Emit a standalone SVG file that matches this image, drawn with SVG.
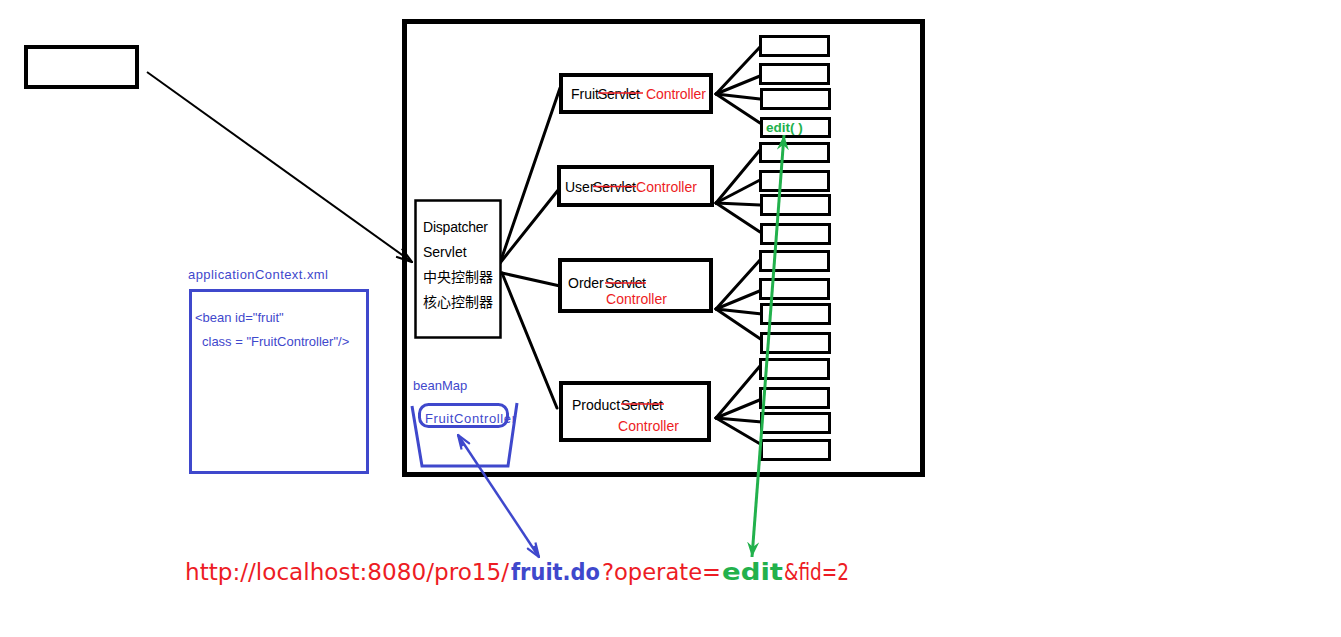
<svg xmlns="http://www.w3.org/2000/svg" width="1341" height="637" viewBox="0 0 1341 637">
<style>
text{font-family:"Liberation Sans","Noto Sans CJK SC",sans-serif;}
.box{fill:#fff;stroke:#000;}
.blk{fill:#000;font-size:14px;}
.red{fill:#ed1c24;font-size:14px;}
.blue{fill:#3f48cc;font-size:13px;}
.strike{stroke:#ed1c24;stroke-width:1.3;}
.ln{stroke:#000;stroke-width:3;fill:none;stroke-linecap:round;}
.sm{fill:#fff;stroke:#000;stroke-width:3;}
.url{font-family:"DejaVu Sans","Noto Sans CJK SC",sans-serif;font-size:23px;}
</style>
<defs>
<marker id="arrBlack" viewBox="0 0 18 12" refX="17" refY="6" markerWidth="18" markerHeight="12" markerUnits="userSpaceOnUse" orient="auto"><path d="M1,1 L17,6 L1,11" fill="none" stroke="#000" stroke-width="2.2"/></marker>
<marker id="arrBlue" viewBox="0 0 16 12" refX="15" refY="6" markerWidth="16" markerHeight="12" markerUnits="userSpaceOnUse" orient="auto-start-reverse"><path d="M1,1 L15,6 L1,11 M3,4 L14,6" fill="none" stroke="#3f48cc" stroke-width="2.2"/></marker>
<marker id="arrGreen" viewBox="0 0 16 12" refX="15" refY="6" markerWidth="16" markerHeight="12" markerUnits="userSpaceOnUse" orient="auto-start-reverse"><path d="M0,0 L15,6 L0,12 L5,6 Z" fill="#22b14c"/></marker>
</defs>
<rect width="1341" height="637" fill="#fff"/>

<g id="client">
<rect x="26" y="47" width="111" height="40" class="box" stroke-width="4"/>
</g>

<g id="container">
<rect x="404.5" y="21.5" width="518" height="453" fill="none" stroke="#000" stroke-width="5"/>
</g>

<g id="connectors">
<line x1="147" y1="72" x2="412" y2="262" stroke="#000" stroke-width="2" marker-end="url(#arrBlack)"/>
<line class="ln" x1="500" y1="263" x2="560" y2="88"/>
<line class="ln" x1="500" y1="263" x2="559" y2="189"/>
<line class="ln" x1="502" y1="273" x2="560" y2="286"/>
<line class="ln" x1="502" y1="273" x2="557" y2="408"/>
<line class="ln" x1="716" y1="94" x2="760" y2="47"/>
<line class="ln" x1="716" y1="94" x2="760" y2="76"/>
<line class="ln" x1="716" y1="94" x2="760" y2="99"/>
<line class="ln" x1="716" y1="94" x2="760" y2="123"/>
<line class="ln" x1="716" y1="203" x2="760" y2="150"/>
<line class="ln" x1="716" y1="203" x2="760" y2="180"/>
<line class="ln" x1="716" y1="203" x2="760" y2="205"/>
<line class="ln" x1="716" y1="203" x2="760" y2="232"/>
<line class="ln" x1="716" y1="309" x2="760" y2="260"/>
<line class="ln" x1="716" y1="309" x2="762" y2="290"/>
<line class="ln" x1="716" y1="309" x2="762" y2="314"/>
<line class="ln" x1="716" y1="309" x2="762" y2="340"/>
<line class="ln" x1="716" y1="418" x2="760" y2="366"/>
<line class="ln" x1="716" y1="418" x2="762" y2="399"/>
<line class="ln" x1="716" y1="418" x2="762" y2="422"/>
<line class="ln" x1="716" y1="418" x2="762" y2="445"/>
</g>

<g id="dispatcher">
<rect x="415.5" y="200.5" width="85" height="137" class="box" stroke-width="2.5"/>
<text x="423" y="232" class="blk" font-size="13.5" textLength="65">Dispatcher</text>
<text x="423" y="257" class="blk" font-size="13.5">Servlet</text>
<text x="423" y="282" class="blk" font-size="13">中央控制器</text>
<text x="423" y="307" class="blk" font-size="13">核心控制器</text>
</g>

<g id="fruitController">
<rect x="561" y="75" width="150" height="37" class="box" stroke-width="4"/>
<text x="571" y="99" class="blk">Fruit</text>
<text x="598" y="99" class="blk" textLength="42">Servlet</text>
<line x1="598" y1="93" x2="643" y2="93" class="strike"/>
<text x="646" y="99" class="red" textLength="60">Controller</text>
</g>

<g id="userController">
<rect x="559" y="167" width="153" height="38" class="box" stroke-width="4"/>
<text x="565" y="192" class="blk">User</text>
<text x="593" y="192" class="blk" textLength="43">Servlet</text>
<line x1="593" y1="186.5" x2="636" y2="186.5" class="strike"/>
<text x="636" y="192" class="red" textLength="61">Controller</text>
</g>

<g id="orderController">
<rect x="560" y="260" width="151" height="51" class="box" stroke-width="4"/>
<text x="568" y="288" class="blk">Order</text>
<text x="605" y="288" class="blk" textLength="41">Servlet</text>
<line x1="605" y1="283" x2="646" y2="283" class="strike"/>
<text x="606" y="304" class="red" textLength="61">Controller</text>
</g>

<g id="productController">
<rect x="561" y="383" width="148" height="57" class="box" stroke-width="4"/>
<text x="572" y="410" class="blk">Product</text>
<text x="621" y="410" class="blk" textLength="42">Servlet</text>
<line x1="621" y1="404" x2="664" y2="404" class="strike"/>
<text x="618" y="431" class="red" textLength="61">Controller</text>
</g>

<g id="methods">
<rect x="760.5" y="36.5" width="68" height="19" class="sm"/>
<rect x="760.5" y="64.5" width="68" height="19" class="sm"/>
<rect x="761.5" y="89.5" width="68" height="19" class="sm"/>
<rect x="761.5" y="118.5" width="68" height="18" class="sm"/>
<rect x="760.5" y="143.5" width="68" height="18" class="sm"/>
<rect x="760.5" y="171.5" width="68" height="19" class="sm"/>
<rect x="761.5" y="195.5" width="68" height="19" class="sm"/>
<rect x="761.5" y="224.5" width="68" height="19" class="sm"/>
<rect x="760.5" y="251.5" width="68" height="19" class="sm"/>
<rect x="760.5" y="279.5" width="68" height="19" class="sm"/>
<rect x="761.5" y="304.5" width="68" height="19" class="sm"/>
<rect x="761.5" y="333.5" width="68" height="19" class="sm"/>
<rect x="760.5" y="359.5" width="68" height="19" class="sm"/>
<rect x="760.5" y="388.5" width="68" height="19" class="sm"/>
<rect x="761.5" y="413.5" width="68" height="19" class="sm"/>
<rect x="761.5" y="440.5" width="68" height="19" class="sm"/>
<text x="766" y="132" fill="#22b14c" font-size="13.5" font-weight="bold">edit( )</text>
</g>

<g id="appContext">
<text x="188" y="279" class="blue" textLength="140">applicationContext.xml</text>
<rect x="190.5" y="290.5" width="177" height="182" fill="none" stroke="#3f48cc" stroke-width="3"/>
<text x="195" y="322" class="blue">&lt;bean id="fruit"</text>
<text x="202" y="346" class="blue">class = "FruitController"/&gt;</text>
</g>

<g id="beanMap">
<text x="413" y="390" class="blue">beanMap</text>
<path d="M412,406 L422,466 L508,466 L517,403" fill="none" stroke="#3f48cc" stroke-width="3"/>
<rect x="419.5" y="404.5" width="88" height="22" rx="9" fill="none" stroke="#3f48cc" stroke-width="3"/>
<text x="425" y="423" class="blue" textLength="91">FruitController</text>
</g>

<g id="url">
<text x="185" y="580" class="url" fill="#ed1c24" textLength="324" lengthAdjust="spacingAndGlyphs">http://localhost:8080/pro15/</text>
<text x="511" y="580" class="url" fill="#3f48cc" font-weight="bold" textLength="89" lengthAdjust="spacingAndGlyphs">fruit.do</text>
<text x="602" y="580" class="url" fill="#ed1c24" textLength="119" lengthAdjust="spacingAndGlyphs">?operate=</text>
<text x="722" y="580" class="url" fill="#22b14c" font-weight="bold" textLength="61" lengthAdjust="spacingAndGlyphs">edit</text>
<text x="784" y="580" class="url" fill="#ed1c24" textLength="65" lengthAdjust="spacingAndGlyphs">&amp;fid=2</text>
</g>

<g id="links">
<line x1="458" y1="435" x2="539" y2="557" stroke="#3f48cc" stroke-width="2.5" marker-start="url(#arrBlue)" marker-end="url(#arrBlue)"/>
<line x1="784" y1="135" x2="752" y2="557" stroke="#22b14c" stroke-width="3" marker-start="url(#arrGreen)" marker-end="url(#arrGreen)"/>
</g>
</svg>
